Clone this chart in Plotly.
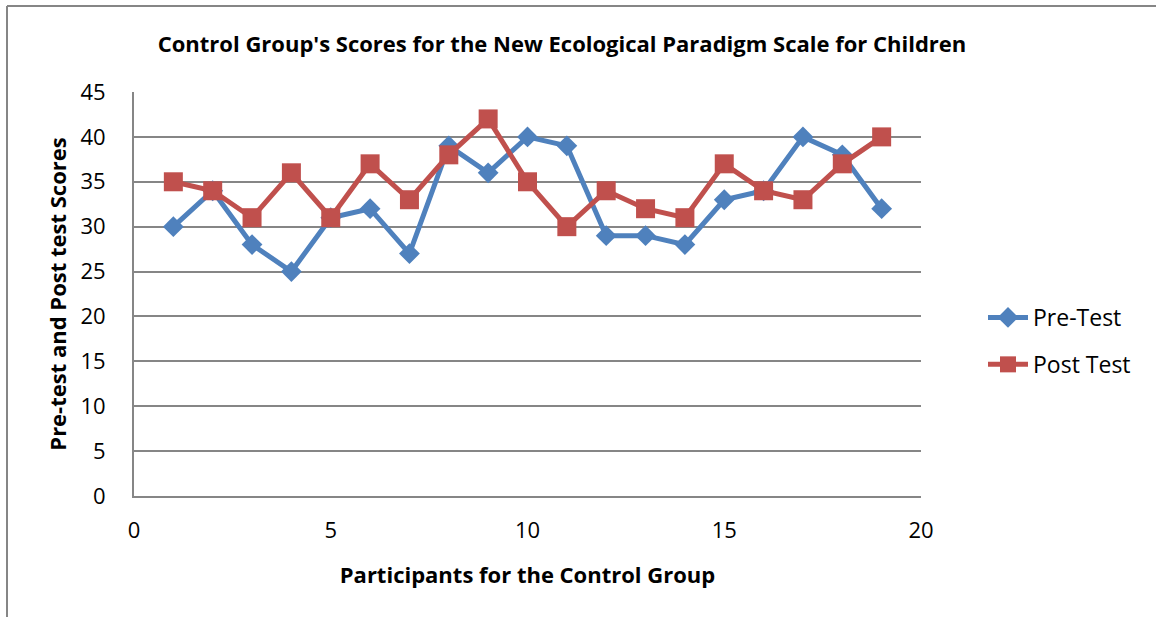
import plotly.graph_objects as go

participants = list(range(1, 20))
pre_test = [30, 34, 28, 25, 31, 32, 27, 39, 36, 40, 39, 29, 29, 28, 33, 34, 40, 38, 32]
post_test = [35, 34, 31, 36, 31, 37, 33, 38, 42, 35, 30, 34, 32, 31, 37, 34, 33, 37, 40]

W, H = 1156, 617
L, R, T, B = 134, 235, 92, 121
pw, ph = W - L - R, H - T - B

def px(x):
    return (x - L) / pw

def py(y):
    return (H - B - y) / ph

FONT = "Open Sans"

fig = go.Figure()
fig.add_trace(go.Scatter(
    x=participants, y=pre_test, mode="lines+markers", name="Pre-Test",
    legendgroup="a",
    line=dict(color="#4F81BD", width=5),
    marker=dict(symbol="diamond", size=16, color="#4F81BD"),
))
fig.add_trace(go.Scatter(
    x=participants, y=post_test, mode="lines+markers", name="Post Test",
    legendgroup="b",
    line=dict(color="#C0504D", width=5),
    marker=dict(symbol="square", size=19, color="#C0504D"),
))

fig.update_layout(
    width=W, height=H,
    margin=dict(l=L, r=R, t=T, b=B),
    paper_bgcolor="white", plot_bgcolor="white",
    font=dict(family=FONT, size=22, color="black"),
    title=dict(text="<b>Control Group's Scores for the New Ecological Paradigm Scale for Children</b>",
               xref="container", x=562 / W, xanchor="center",
               yref="container", y=1 - 44 / H, yanchor="middle",
               font=dict(family=FONT, size=22, color="black")),
    xaxis=dict(range=[0, 20], dtick=5, tick0=0, showgrid=False, zeroline=False,
               showline=True, linecolor="#868686", linewidth=2,
               ticks="", tickfont=dict(size=22), ticklabelstandoff=14,
               title=dict(text="<b>Participants for the Control Group</b>",
                          font=dict(size=22), standoff=24)),
    yaxis=dict(range=[0, 45], dtick=5, tick0=0, showgrid=True, gridcolor="#868686",
               gridwidth=1.5, zeroline=False, showline=True, linecolor="#868686",
               linewidth=2, ticks="", tickfont=dict(size=22), ticklabelstandoff=22,
               title=dict(text="<b>Pre-test and Post test Scores</b>",
                          font=dict(size=22), standoff=8)),
    legend=dict(x=px(983), xanchor="left", y=py(341), yanchor="middle",
                font=dict(size=23), itemwidth=40, traceorder="grouped",
                tracegroupgap=14, bgcolor="rgba(0,0,0,0)"),
    showlegend=True,
)

# outer chart frame (top and left edges visible in the reference)
fig.add_shape(type="line", xref="paper", yref="paper",
              x0=px(7), x1=px(1160), y0=py(6), y1=py(6),
              line=dict(color="#868686", width=2))
fig.add_shape(type="line", xref="paper", yref="paper",
              x0=px(7), x1=px(7), y0=py(6), y1=py(620),
              line=dict(color="#868686", width=2))

fig.write_html("out.html", config={"displayModeBar": False},
               post_script="document.body.style.margin='0';")
